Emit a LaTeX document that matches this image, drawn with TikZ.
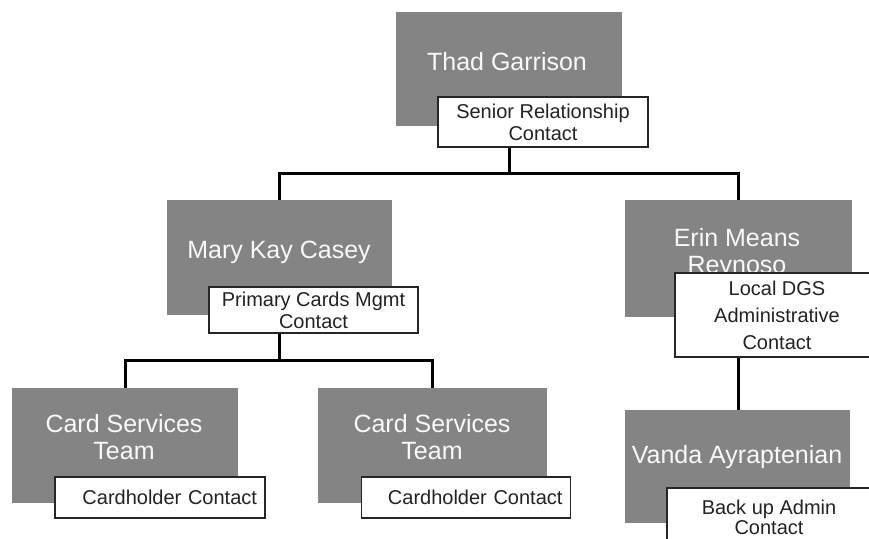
\documentclass[tikz,border=0pt]{standalone}
\usepackage{fontspec}
\setmainfont{Liberation Sans}
\definecolor{boxgray}{RGB}{132,132,132}
\definecolor{roletext}{RGB}{35,35,35}

\begin{document}
\begin{tikzpicture}[
    x=1pt, y=-1pt,
    person/.style={fill=boxgray, draw=none, inner sep=0pt},
    nametext/.style={text=white!95!gray, align=center, inner sep=0pt, font=\fontsize{25}{27}\selectfont},
    rolebox/.style={draw=black!85, line width=1.5pt, fill=white, inner sep=0pt, align=center, text=roletext, font=\fontsize{20}{22}\selectfont},
    cardrole/.style={rolebox, text width=194pt, inner xsep=8pt, align=right},
    link/.style={line width=3pt}
]
\useasboundingbox (0,0) rectangle (869,538);
\clip (0,0) rectangle (869,538);

% Gray boxes
\node[person, minimum width=226pt, minimum height=114pt] (thad) at (509,69) {};
\node[person, minimum width=225pt, minimum height=115pt] (mary) at (279.5,257.5) {};
\node[person, minimum width=227pt, minimum height=117pt] (erin) at (738.5,258.5) {};
\node[person, minimum width=226pt, minimum height=115pt] (card1) at (125,445.5) {};
\node[person, minimum width=229pt, minimum height=115pt] (card2) at (432.5,445.5) {};
\node[person, minimum width=225pt, minimum height=113pt] (vanda) at (737.5,466.5) {};

% Connectors
\coordinate (topbus) at (thad.south |- 0,173);
\coordinate (leftbus) at (mary.south |- 0,360);
\draw[link] (thad.south) -- (topbus);
\draw[link] (mary.north) |- (topbus);
\draw[link] (erin.north) |- (topbus);
\draw[link] (mary.south) -- (leftbus);
\draw[link] (card1.north) |- (leftbus);
\draw[link] (card2.north) |- (leftbus);
\draw[link] (erin.south) -- (erin.south |- vanda.north);

% Names
\node[nametext] (thadname) at (507,62) {Thad Garrison};
\node[nametext] (maryname) at (279,252) {Mary Kay Casey};
\node[nametext] (erinname) at (737,254) {Erin Means\\Reynoso};
\node[nametext] (card1name) at (124,437) {Card Services\\Team};
\node[nametext] (card2name) at (432,437) {Card Services\\Team};
\node[nametext] (vandaname) at (737,457) {Vanda Ayraptenian};

% Contact roles
\node[rolebox, minimum width=210pt, minimum height=50pt] (thadrole) at (543,122) {Senior Relationship\\Contact};
\node[rolebox, minimum width=209pt, minimum height=46pt] (maryrole) at (313.5,310) {Primary Cards Mgmt\\Contact};
\node[rolebox, minimum width=204pt, minimum height=84pt, font=\fontsize{20}{27}\selectfont] (erinrole) at (777,315) {Local DGS\\Administrative\\Contact};
\node[cardrole, minimum height=41pt] (card1role) at (160,497.5) {Cardholder Contact};
\node[cardrole, text width=193pt, minimum height=41pt] (card2role) at (466,497.5) {Cardholder Contact};
\node[rolebox, minimum width=204pt, minimum height=58pt, font=\fontsize{20}{20}\selectfont] (vandarole) at (769,517) {Back up Admin\\Contact};
\end{tikzpicture}
\end{document}
